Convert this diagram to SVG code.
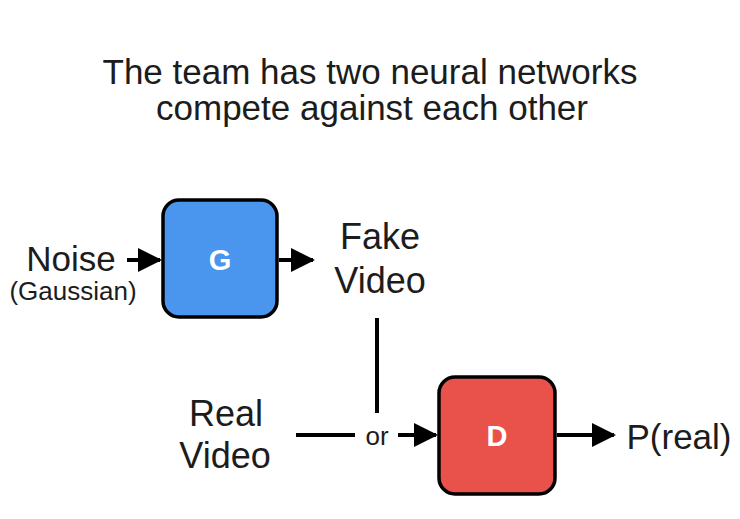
<svg xmlns="http://www.w3.org/2000/svg" width="740" height="519" viewBox="0 0 740 519">
<style>
text{font-family:"Liberation Sans",Arial,sans-serif;fill:#1c1c1c}
.t{font-size:35px;text-anchor:middle}
.l{font-size:36px;text-anchor:middle}
.box{stroke:#000;stroke-width:3.5}
.w{fill:#fff;font-weight:bold;font-size:29px;text-anchor:middle}
.c{stroke:#000;stroke-width:4;fill:none}
</style>
<defs>
<marker id="ah" markerWidth="6" markerHeight="6" refX="5.5" refY="3" orient="auto" markerUnits="strokeWidth" viewBox="0 0 6 6">
<path d="M0,0 L6,3 L0,6 Z" fill="#000"/>
</marker>
</defs>
<rect width="740" height="519" fill="#fff"/>
<g id="title">
<text class="t" x="370" y="84">The team has two neural networks</text>
<text class="t" x="372" y="120">compete against each other</text>
</g>
<g id="connectors">
<line class="c" x1="127" y1="260" x2="160" y2="260" marker-end="url(#ah)"/>
<line class="c" x1="279" y1="260" x2="313" y2="260" marker-end="url(#ah)"/>
<line class="c" x1="377" y1="318" x2="377" y2="413"/>
<line class="c" x1="296" y1="435" x2="355" y2="435"/>
<line class="c" x1="398" y1="435" x2="436" y2="435" marker-end="url(#ah)"/>
<line class="c" x1="557" y1="435" x2="614" y2="435" marker-end="url(#ah)"/>
<text x="377" y="445" style="font-size:26px;text-anchor:middle">or</text>
</g>
<g id="noise">
<text x="71" y="271" style="font-size:35px;text-anchor:middle">Noise</text>
<text x="73" y="300" style="font-size:26px;text-anchor:middle">(Gaussian)</text>
</g>
<g id="G">
<rect class="box" x="163" y="200" width="114" height="117" rx="16" fill="#4a96ee"/>
<text class="w" x="220" y="270">G</text>
</g>
<g id="fake">
<text class="l" x="380" y="249">Fake</text>
<text class="l" x="380" y="293">Video</text>
</g>
<g id="real">
<text class="l" x="226" y="426">Real</text>
<text class="l" x="225" y="468">Video</text>
</g>
<g id="D">
<rect class="box" x="439" y="377" width="116" height="117" rx="16" fill="#e8524b"/>
<text class="w" x="497" y="446">D</text>
</g>
<g id="preal">
<text x="679" y="449" style="font-size:35px;text-anchor:middle">P(real)</text>
</g>
</svg>
